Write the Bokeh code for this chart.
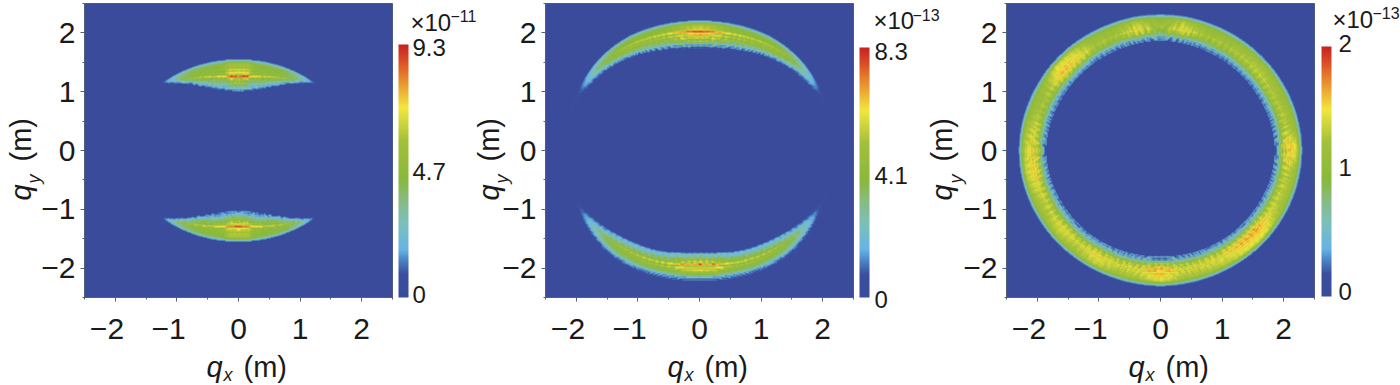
import math
import numpy as np
from bokeh.embed import file_html
from bokeh.resources import INLINE
from bokeh.layouts import row
from bokeh.models import ColorBar, FixedTicker, Label, LinearColorMapper, Range1d
from bokeh.plotting import figure

# ---------- values ----------
tick_values = [-2, -1, 0, 1, 2]
minor_tick_values = [-2.5, -1.5, -0.5, 0.5, 1.5, 2.5]
y_tick_labels = {-2: "\u22122", -1: "\u22121", 0: "0", 1: "1", 2: "2"}
x_tick_labels = {-2: "\u22122\u00a0\u00a0", -1: "\u22121\u00a0\u00a0", 0: "0", 1: "1", 2: "2"}

palette_pos = [0.0, 0.09, 0.14, 0.19, 0.29, 0.38, 0.47, 0.62, 0.75, 0.84, 0.92, 1.0]
palette_hex = ["#3A4B9B", "#3A4F9F", "#4A7FC0", "#67B4E6", "#7CC0BC", "#87BC86", "#8AB93A",
               "#A4C13A", "#F3E83E", "#EB9E30", "#DF5C27", "#CB2222"]

# Panel a: two lobes (angle from the +/-y axis in degrees, edges in m, relative level)
a_vmax, a_cbar_labels, a_exp = 9.3, ["0", "4.7", "9.3"], "\u221211"
a_top_angle = [0, 10, 20, 30, 38, 44, 48, 90]
a_top_outer = [1.56, 1.57, 1.59, 1.62, 1.65, 1.68, 1.72, 1.72]
a_top_inner = [1.00, 1.03, 1.11, 1.26, 1.44, 1.58, 1.68, 1.70]
a_env_angle = [-90, -52, -48, -44, -38, -30, -20, -10, -6, 6, 10, 20, 30, 38, 44, 48, 52, 90]
a_env_level = [0, 0, .1, .3, .56, .72, .76, .8, 1, 1, .8, .76, .72, .56, .3, .1, 0, 0]
a_top_profile = [.08, .22, .34, .44, .5, .55, .58, .6, .62, .66, .6, .56, .66, .72, .62, .56, .7, .78, .62, .56,
                 .82, 1.0, .92, .6, .54, .74, .64, .42, .56, .66, .4, .3, .5, .46, .24, .2, .38, .3, .12, .2]
a_bot_profile = [.08, .24, .36, .46, .52, .56, .6, .66, .58, .6, .68, .62, .56, .7, .74, .56, .76, .66, 1.0, .94,
                 .6, .56, .8, .62, .54, .72, .56, .42, .62, .5, .28, .46, .38, .16, .36, .26, .1, .26, .12, .04]

# Panel b
b_vmax, b_cbar_labels, b_exp = 8.3, ["0", "4.1", "8.3"], "\u221213"
b_top_angle = [0, 10, 20, 30, 40, 50, 60, 70, 80, 90]
b_top_outer = [2.22, 2.23, 2.25, 2.27, 2.27, 2.26, 2.24, 2.24, 2.24, 2.24]
b_top_inner = [1.72, 1.73, 1.78, 1.86, 1.95, 2.03, 2.08, 2.13, 2.15, 2.15]
b_bot_outer = [2.22, 2.24, 2.27, 2.30, 2.31, 2.28, 2.25, 2.24, 2.24, 2.24]
b_bot_inner = [1.72, 1.74, 1.80, 1.85, 1.91, 2.00, 2.08, 2.13, 2.15, 2.15]
b_env_angle = [-90, -70, -62, -55, -45, -35, -25, -15, -7, 0, 7, 15, 25, 35, 45, 55, 62, 70, 90]
b_env_level = [.02, .05, .14, .33, .58, .7, .72, .76, .92, 1, .92, .76, .72, .7, .58, .33, .14, .05, .02]
b_top_profile = [.06, .2, .34, .46, .54, .6, .62, .64, .66, .68, .66, .66, .7, .94, 1.0, .76, .62, .76, .92, .74,
                 .56, .74, .84, .54, .42, .7, .54, .22, .54, .34, .08, .38, .14, .02, .14, .02]
b_bot_profile = [.06, .2, .04, .3, .12, .42, .2, .54, .42, .64, .66, .5, .7, .76, .58, .88, .88, .58, .66, .94,
                 1.0, .7, .56, .72, .66, .46, .6, .62, .4, .28, .38, .38, .3, .28, .14, .04]

# Panel c: full ring
c_vmax, c_cbar_labels, c_exp = 2.0, ["0", "1", "2"], "\u221213"
c_top_angle = [0, 30, 60, 90]
c_top_outer = [2.33, 2.32, 2.31, 2.31]
c_top_inner = [1.85, 1.82, 1.81, 1.84]
c_bot_outer = [2.32, 2.31, 2.31, 2.31]
c_bot_inner = [1.78, 1.80, 1.81, 1.84]
c_env_angle = [-90, -80, -70, -60, -50, -40, -30, -20, -10, 0, 10, 20, 30, 40, 50, 60, 70, 80, 90]
c_top_level = [1.02, .96, .84, .88, 1.12, 1.04, .84, .84, 1.0, .8, 1.0, .84, .84, .88, .92, .88, .88, .9, 1.14]
c_bot_level = [1.02, 1.06, .96, .92, 1.0, .94, 1.04, .96, .98, 1.14, .96, .98, 1.02, 1.12, 1.14, .96, .92, .92, 1.1]
c_profile = [.05, .16, .28, .36, .42, .5, .56, .6, .64, .62, .68, .64, .62, .74, .66, .62, .78, .68, .62, .84,
             .7, .62, .8, .62, .56, .76, .6, .42, .66, .46, .22, .5, .3, .08, .4, .16, .04, .3, .08, .0]

angular_ripple = [1.16, 1.0, .84]

# ---------- layout in page pixels ----------
FRAME_W, FRAME_H, FRAME_TOP = 308, 294, 3
BORDER_L, CANVAS_H = 84, 385
NX, NY = 308, 294
FONT = "Liberation Sans"
INK = "#1a1a1a"
EDGE = "#50607A"
LABEL_DROP = 0.24  # how far, in em, a Label sits below its anchor on this canvas


def hex2rgb(h):
    return [int(h[i:i + 2], 16) for i in (1, 3, 5)]


def build_palette():
    rgb = np.array([hex2rgb(h) for h in palette_hex], dtype=float)
    s = np.arange(256) / 255
    chans = [np.interp(s, palette_pos, rgb[:, k]) for k in range(3)]
    return ["#%02X%02X%02X" % (int(r), int(g), int(b)) for r, g, b in zip(*chans)]


PALETTE = build_palette()
xs = -2.5 + (np.arange(NX) + 0.5) * 5 / NX
ys = -2.5 + (np.arange(NY) + 0.5) * 5 / NY
GX, GY = np.meshgrid(xs, ys)


def lobe(sign, angle, outer, inner, env_angle, env_level, profile):
    """Look the read values up on the image's cells: edges by angle, level across the band."""
    y = GY * sign
    r = np.hypot(GX, y)
    th = np.degrees(np.arctan2(GX, y))
    a = np.abs(th)
    o = np.interp(a, angle, outer)
    i = np.interp(a, angle, inner)
    frac = (o - r) / np.maximum(o - i, 1e-3)
    inside = (frac >= 0) & (frac < 1) & (a <= 90)
    prof = np.array(profile)[np.clip((frac * len(profile)).astype(int), 0, len(profile) - 1)]
    env = np.interp(th, env_angle, env_level)
    rip = np.array(angular_ripple)[np.floor(th + 180).astype(int) % len(angular_ripple)]
    w = np.clip((frac - 0.45) * 2.5, 0, 1) + 0.15
    return np.where(inside, env * prof * (1 + (rip - 1) * w), 0.0)


def soften(z):
    out = z.copy()
    for axis in (0, 1):
        out = (np.roll(out, 1, axis) + 6 * out + np.roll(out, -1, axis)) / 8
    return out


def make_panel(field, vmax, page_left, bar, canvas_w):
    frame_left = page_left + BORDER_L
    p = figure(width=canvas_w, height=CANVAS_H, x_range=Range1d(-2.5, 2.5), y_range=Range1d(-2.5, 2.5),
               toolbar_location=None, output_backend="svg", tools="",
               min_border_left=BORDER_L, min_border_right=canvas_w - BORDER_L - FRAME_W,
               min_border_top=FRAME_TOP, min_border_bottom=CANVAS_H - FRAME_TOP - FRAME_H,
               border_fill_color=None, background_fill_color="#3A4B9B",
               styles={"position": "absolute", "left": f"{page_left}px", "top": "0px"})
    p.grid.visible = False
    p.outline_line_color = EDGE
    mapper = LinearColorMapper(palette=PALETTE, low=0, high=vmax)
    p.image(image=[soften(field) * vmax], x=-2.5, y=-2.5, dw=5, dh=5, color_mapper=mapper)

    for ax in (p.xaxis[0], p.yaxis[0]):
        ax.ticker = FixedTicker(ticks=tick_values, minor_ticks=minor_tick_values)
        ax.major_label_text_font = FONT
        ax.major_label_text_font_size = "30px"
        ax.major_label_text_color = INK
        ax.axis_line_color = EDGE
        ax.major_tick_line_color = EDGE
        ax.minor_tick_line_color = EDGE
        ax.major_tick_in = 0
        ax.major_tick_out = 4
        ax.minor_tick_in = 0
        ax.minor_tick_out = 2
    p.xaxis[0].major_label_overrides = x_tick_labels
    p.yaxis[0].major_label_overrides = y_tick_labels
    p.xaxis[0].major_label_standoff = 10
    p.yaxis[0].major_label_standoff = 5

    x0, y_top, y_bot = bar
    cb = ColorBar(color_mapper=mapper, ticker=FixedTicker(ticks=[]), major_tick_line_color=None,
                  minor_tick_line_color=None, bar_line_color=None, border_line_color=None,
                  background_fill_color=None, padding=0, margin=0, width=10, height=y_bot - y_top,
                  location=(x0 - frame_left, FRAME_TOP + FRAME_H - y_bot))
    p.add_layout(cb)
    return p


# A transparent sheet over the whole page carries the texts that lie outside the frames.
sheet = figure(width=1400, height=CANVAS_H, frame_width=1400, frame_height=CANVAS_H,
               x_range=Range1d(0, 1400), y_range=Range1d(CANVAS_H, 0),
               toolbar_location=None, output_backend="svg", tools="",
               x_axis_location=None, y_axis_location=None,
               min_border_left=0, min_border_right=0, min_border_top=0, min_border_bottom=0,
               border_fill_color=None, background_fill_color=None, outline_line_color=None,
               styles={"position": "absolute", "left": "0px", "top": "0px"})
sheet.grid.visible = False


def text(px, py, s, size, style="normal", angle=0.0, baseline="alphabetic"):
    if angle:
        px -= LABEL_DROP * size
    else:
        py -= LABEL_DROP * size
    sheet.add_layout(Label(x=px, y=py, text=s, text_font=FONT, text_font_size=f"{size}px",
                           text_font_style=style, text_color=INK, angle=angle, angle_units="rad",
                           text_align="left", text_baseline=baseline))


def panel_texts(frame_left, bar_label_px, labels, exp, exp_px, ylabel_px):
    lx, centres = bar_label_px
    for s, cy in zip(labels, centres):
        text(lx, cy + 2, s, 24, baseline="middle")
    ex, ey, sup_x, sup_y = exp_px
    text(ex, ey, "\u00d710", 24)
    text(sup_x, sup_y, exp, 16)
    ql = frame_left + 122
    text(ql, 370, "q", 29, "italic")
    text(ql + 17, 376, "x", 18, "italic")
    text(ql + 37, 370, "(m)", 29)
    bx, sub = ylabel_px
    text(bx, 197, "q", 29, "italic", math.pi / 2)
    text(sub, 180, "y", 18, "italic", math.pi / 2)
    text(bx, 158, "(m)", 29, "normal", math.pi / 2)


field_a = (lobe(1, a_top_angle, a_top_outer, a_top_inner, a_env_angle, a_env_level, a_top_profile)
           + lobe(-1, a_top_angle, a_top_outer, a_top_inner, a_env_angle, a_env_level, a_bot_profile))
field_b = (lobe(1, b_top_angle, b_top_outer, b_top_inner, b_env_angle, b_env_level, b_top_profile)
           + lobe(-1, b_top_angle, b_bot_outer, b_bot_inner, b_env_angle, b_env_level, b_bot_profile))
field_c = (lobe(1, c_top_angle, c_top_outer, c_top_inner, c_env_angle, c_top_level, c_profile)
           + lobe(-1, c_top_angle, c_bot_outer, c_bot_inner, c_env_angle, c_bot_level, c_profile))

p1 = make_panel(field_a, a_vmax, 0, (398, 44, 297), 470)
p2 = make_panel(field_b, b_vmax, 461, (859, 47, 297), 480)
p3 = make_panel(field_c, c_vmax, 922, (1321, 46, 296), 478)

panel_texts(84, (412, [295, 172, 48]), a_cbar_labels, a_exp, (410, 25, 450, 16), (27, 38))
panel_texts(545, (874, [300, 176, 52]), b_cbar_labels, b_exp, (873, 23, 912, 15), (495, 506))
panel_texts(1006, (1338, [292, 168, 44]), c_cbar_labels, c_exp, (1332, 22, 1372, 13), (948, 960))

layout = row(p1, p2, p3, sheet, width=1400, height=385,
             styles={"position": "absolute", "left": "0px", "top": "0px"})

open("out.html", "w").write(file_html(layout, INLINE))
